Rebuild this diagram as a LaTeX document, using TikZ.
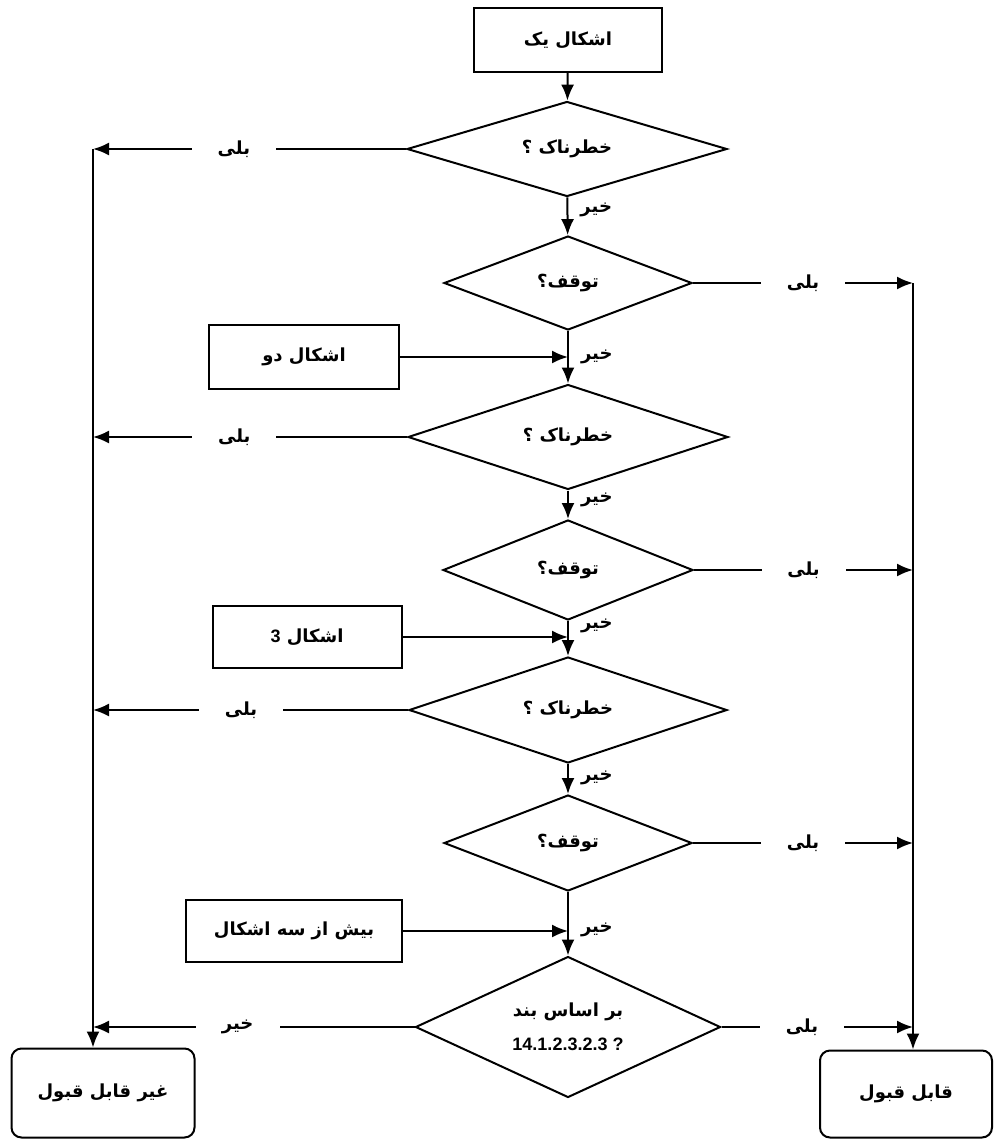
\documentclass[tikz,border=0pt]{standalone}
\usepackage{fontspec}
\usetikzlibrary{shapes.geometric,arrows.meta}
\newfontfamily\fa[Script=Arabic]{DejaVu Sans}
\newfontfamily\lat{Liberation Sans}
\TeXXeTstate=1

\begin{document}
\begin{tikzpicture}[x=1pt,y=-1pt,->,>={Latex[length=16pt,width=13pt]},line width=2pt,
  every node/.style={font=\fa\bfseries\fontsize{18}{22}\selectfont},
  box/.style={draw,rectangle,minimum height=64pt,inner sep=0pt},
  cond/.style={draw,diamond,aspect=2.5,inner sep=0pt},
  term/.style={draw,rectangle,rounded corners=10pt,inner sep=0pt},
  gap/.style={fill=white,minimum width=84pt,minimum height=18pt,inner sep=0pt},
  no/.style={right,inner xsep=12pt,inner ysep=0pt}]
\useasboundingbox (0,0) rectangle (993,1140);

% main column
\node[box,minimum width=188pt] (s) at (568,40) {\beginR اشکال یک\endR};
\node[cond,minimum width=320pt,minimum height=95pt] (d1) at (567,149) {\beginR خطرناک ؟\endR};
\node[cond,minimum width=248pt,minimum height=94pt] (d2) at (568,283) {\beginR توقف؟\endR};
\node[cond,minimum width=320pt,minimum height=105pt] (d3) at (568,437) {\beginR خطرناک ؟\endR};
\node[cond,minimum width=250pt,minimum height=100pt] (d4) at (568,570) {\beginR توقف؟\endR};
\node[cond,minimum width=318pt,minimum height=106pt] (d5) at (568,710) {\beginR خطرناک ؟\endR};
\node[cond,minimum width=248pt,minimum height=96pt] (d6) at (568,843) {\beginR توقف؟\endR};
\node[cond,minimum width=305pt,minimum height=141pt,align=center] (d7) at (568,1027)
  {\beginR بر اساس بند\endR\\[12pt]\beginL{\lat\bfseries 14.1.2.3.2.3 ?}\endL};

% side boxes
\node[box,minimum width=190pt] (b2) at (304,357) {\beginR اشکال دو\endR};
\node[box,minimum width=189pt,minimum height=62pt] (b3) at (307,637) {\beginR اشکال \beginL{\lat\bfseries 3}\endL\endR};
\node[box,minimum width=216pt,minimum height=62pt] (b4) at (294,931) {\beginR بیش از سه اشکال\endR};

% results
\node[term,minimum width=183pt,minimum height=89pt] (rej) at (103,1093) {\beginR غیر قابل قبول\endR};
\node[term,minimum width=172pt,minimum height=87pt] (acc) at (906,1094) {\beginR قابل قبول\endR};

\coordinate (l1) at (93,149);
\coordinate (l3) at (93,437);
\coordinate (l5) at (93,710);
\coordinate (l7) at (93,1027);
\coordinate (r2) at (913,283);
\coordinate (r4) at (913,570);
\coordinate (r6) at (913,843);
\coordinate (r7) at (913,1027);

\path
    % down the middle
    (s) edge (d1)
    (d1) edge node[no,pos=0.33] {\beginR خیر\endR} (d2)
    (d2) edge node[no,pos=0.5] {\beginR خیر\endR} (d3)
    (d3) edge node[no,pos=0.33] {\beginR خیر\endR} (d4)
    (d4) edge node[no,pos=0.15] {\beginR خیر\endR} (d5)
    (d5) edge node[no,pos=0.45] {\beginR خیر\endR} (d6)
    (d6) edge node[no,pos=0.6] {\beginR خیر\endR} (d7)
    % extra shapes
    (b2) edge (b2 -| d2.south)
    (b3) edge (b3 -| d4.south)
    (b4) edge (b4 -| d6.south)
    % hazardous -> left
    (d1) edge node[gap,pos=0.55] {\beginR بلی\endR} (l1)
    (d3) edge node[gap,pos=0.55] {\beginR بلی\endR} (l3)
    (d5) edge node[gap,pos=0.53] {\beginR بلی\endR} (l5)
    (d7) edge node[gap,pos=0.55] {\beginR خیر\endR} (l7)
    (l1) edge (l1 |- rej.north)
    % stop -> right
    (d2) edge node[gap,pos=0.5] {\beginR بلی\endR} (r2)
    (d4) edge node[gap,pos=0.5] {\beginR بلی\endR} (r4)
    (d6) edge node[gap,pos=0.5] {\beginR بلی\endR} (r6)
    (d7) edge node[gap,pos=0.42] {\beginR بلی\endR} (r7)
    (r2) edge (r2 |- acc.north)
 ;
\end{tikzpicture}
\end{document}
